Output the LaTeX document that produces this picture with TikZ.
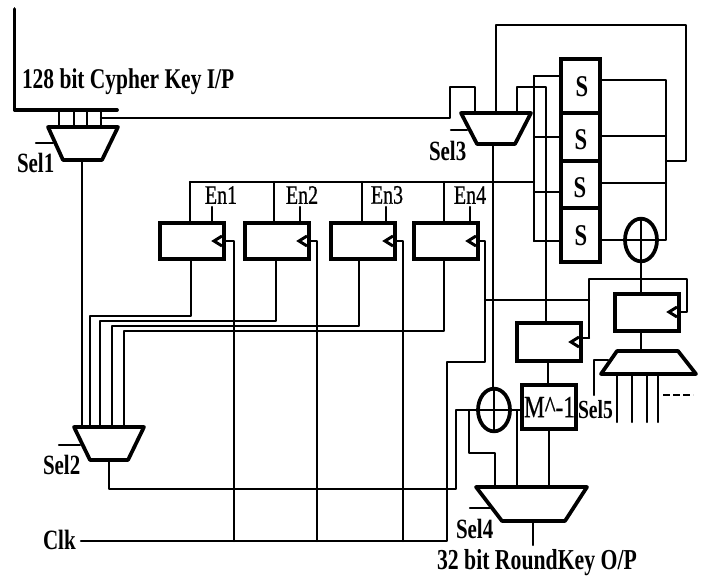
\documentclass[tikz,border=0pt]{standalone}
\usepackage{fontspec}
\setmainfont{Liberation Serif}
\newfontfamily\medfont[FakeBold=0.7]{Liberation Serif}
\newcommand{\tallbf}[2]{\scalebox{1}[1.33]{\fontsize{#1}{#1}\selectfont\bfseries #2}}
\newcommand{\tallrm}[2]{\scalebox{1}[1.33]{\fontsize{#1}{#1}\medfont #2}}
\tikzset{
  x=0.75pt,y=-0.75pt,
  wire/.style={line width=1.7pt,line cap=round,line join=round},
  heavy/.style={line width=2.8pt,line cap=round,line join=round},
  regbox/.style={draw,line width=2.8pt,rectangle,inner sep=0pt,outer sep=0pt},
  muxframe/.style={rectangle,inner sep=0pt,outer sep=0pt},
  xorring/.style={draw,line width=2.8pt,ellipse,inner sep=0pt,outer sep=0pt,minimum width=24pt,minimum height=32pt},
  lbl/.style={inner sep=0pt,outer sep=0pt},
  clocktip/.style={line width=2.2pt,line join=miter}
}
\usetikzlibrary{shapes.geometric}
\newcommand{\regb}[5]{\node[regbox,minimum width=#4*0.75pt,minimum height=#5*0.75pt] (#1) at (#2,#3) {};}
\begin{document}
\begin{tikzpicture}
\useasboundingbox (0,0) rectangle (707,578);
% registers
\regb{ff1}{192}{241}{64}{36}
\regb{ff2}{277}{241}{64}{36}
\regb{ff3}{363}{241}{64}{36}
\regb{ff4}{446}{241}{64}{36}
\regb{ffm}{549}{342}{64}{38}
\regb{ffr}{647}{312.5}{64}{37}
\regb{mbox}{549}{407}{54}{44}
% S boxes
\node[regbox,minimum width=29.25pt,minimum height=40.5pt] (s1) at (580.5,86) {};
\node[regbox,minimum width=29.25pt,minimum height=36pt] (s2) at (580.5,137) {};
\node[regbox,minimum width=29.25pt,minimum height=35.25pt] (s3) at (580.5,184.5) {};
\node[regbox,minimum width=29.25pt,minimum height=40.5pt] (s4) at (580.5,235) {};
\node[lbl] (st1) at (582,87) {\tallbf{17}{S}};
\node[lbl] (st2) at (581,140) {\tallbf{17}{S}};
\node[lbl] (st3) at (580,188) {\tallbf{17}{S}};
\node[lbl] (st4) at (581,236) {\tallbf{17}{S}};
% mux frames
\node[muxframe,minimum width=52.5pt,minimum height=24.75pt] (m1) at (83,143.5) {};
\node[muxframe,minimum width=52.5pt,minimum height=24.75pt] (m2) at (109,443.5) {};
\node[muxframe,minimum width=52.5pt,minimum height=23.25pt] (m3) at (496,128.5) {};
\node[muxframe,minimum width=83.25pt,minimum height=25.5pt] (m4) at (531.5,504) {};
\node[muxframe,minimum width=71.25pt,minimum height=17.25pt] (m5) at (648.5,362.5) {};
\draw[heavy] (m1.north west) -- (m1.north east) -- (102,0 |- m1.south) -- (63,0 |- m1.south) -- cycle;
\draw[heavy] (m2.north west) -- (m2.north east) -- (128,0 |- m2.south) -- (90,0 |- m2.south) -- cycle;
\draw[heavy] (m3.north west) -- (m3.north east) -- (515,0 |- m3.south) -- (477,0 |- m3.south) -- cycle;
\draw[heavy] (m4.north west) -- (m4.north east) -- (565,0 |- m4.south) -- (502,0 |- m4.south) -- cycle;
\draw[heavy] (617,0 |- m5.north) -- (678,0 |- m5.north) -- (m5.south east) -- (m5.south west) -- cycle;
% xor
\node[xorring] (x1) at (494,410) {};
\node[xorring] (x2) at (641,240) {};
% coordinates
\coordinate (bustop) at (14.5,9);
\coordinate (buscorner) at (14.5,110);
\coordinate (busend) at (117,110);
\coordinate (sclk) at (81,541);
\coordinate (sbus) at (190,182);
\coordinate (sbusr) at (534,182);
% key bus
\draw[line width=2.8pt,line cap=round,line join=round] (bustop) -- (buscorner) -- (busend);
\foreach \xx in {59,74,87,101}{\draw[wire] (\xx,0 |- busend) -- (\xx,0 |- m1.north);}
\draw[wire] (101,118) -- (450,118) -- (450,87) -- (475,87) -- (475,0 |- m3.north);
% mux 1
\draw[wire] (82,0 |- m1.south) -- (82,0 |- m2.north);
\draw[wire] (36,143) -- (53,143);
% mux 3 loop
\draw[wire] (496,0 |- m3.north) -- (496,25) -- (686,25) -- (686,161) -- (666,161);
\draw[wire] (517,0 |- m3.north) -- (517,87) -- (546,87) -- (546,0 |- ffm.north);
\draw[wire] (451,130) -- (467,130);
\draw[wire] (493,0 |- m3.south) -- (493,0 |- x1.north);
% S-input bus
\draw[wire] (534,76) -- (534,241);
\draw[wire] (534,76) -- (s1.west |- 534,76);
\draw[wire] (534,137) -- (s2.west |- 534,137);
\draw[wire] (534,192) -- (s3.west |- 534,192);
\draw[wire] (534,241) -- (s4.west |- 534,241);
\draw[wire] (sbus) -- (sbusr);
\draw[wire] (sbus) -- (190,0 |- ff1.north);
\draw[wire] (274,182) -- (274,0 |- ff2.north);
\draw[wire] (362,182) -- (362,0 |- ff3.north);
\draw[wire] (444,182) -- (444,0 |- ff4.north);
% En stubs
\draw[wire] (212,207) -- (212,0 |- ff1.north);
\draw[wire] (300,207) -- (300,0 |- ff2.north);
\draw[wire] (386,207) -- (386,0 |- ff3.north);
\draw[wire] (470,207) -- (470,0 |- ff4.north);
% S outputs
\draw[wire] (s1.east |- 600,80) -- (666,80) -- (666,240) -- (x2.east);
\draw[wire] (s2.east |- 600,136) -- (666,136);
\draw[wire] (s3.east |- 600,183) -- (666,183);
\draw[wire] (s4.east |- 600,240) -- (x2.west);
\draw[wire] (x2.west) -- (x2.east);
\draw[wire] (x2.north) -- (x2.south);
\draw[wire] (x2.south) -- (641,0 |- ffr.north);
% reg to mux 2
\draw[wire] (191,0 |- ff1.south) -- (191,316) -- (90,316) -- (90,0 |- m2.north);
\draw[wire] (276,0 |- ff2.south) -- (276,321) -- (100,321) -- (100,0 |- m2.north);
\draw[wire] (359,0 |- ff3.south) -- (359,326) -- (112,326) -- (112,0 |- m2.north);
\draw[wire] (444,0 |- ff4.south) -- (444,331) -- (124,331) -- (124,0 |- m2.north);
\draw[wire] (59,445) -- (80,445);
% mux 2 output
\draw[wire] (109,0 |- m2.south) -- (109,489) -- (456,489) -- (456,410) -- (mbox.west |- 456,410);
\draw[wire] (x1.north) -- (x1.south);
\draw[wire] (469,410) -- (469,453) -- (495,453) -- (495,0 |- m4.north);
\draw[wire] (517,410) -- (517,0 |- m4.north);
% M box
\draw[wire] (548,0 |- ffm.south) -- (548,0 |- mbox.north);
\draw[wire] (549,0 |- mbox.south) -- (549,0 |- m4.north);
\draw[wire] (533,0 |- m4.south) -- (533,545);
\draw[wire] (470,508) -- (490,508);
% right register
\draw[wire] (641,0 |- ffr.south) -- (641,0 |- m5.north);
\draw[wire] (594,395) -- (594,360) -- (608,360);
\foreach \xx in {617,632,647,658}{\draw[wire] (\xx,0 |- m5.south) -- (\xx,422);}
\draw[line width=2pt,dash pattern=on 5pt off 2.5pt] (663,395) -- (693,395);
% clock
\draw[wire] (sclk) -- (447,541) -- (447,362) -- (485,362) -- (485,241) -- (ff4.east |- 485,241);
\draw[wire] (234,541) -- (234,241) -- (ff1.east |- 234,241);
\draw[wire] (317,541) -- (317,241) -- (ff2.east |- 317,241);
\draw[wire] (403,541) -- (403,241) -- (ff3.east |- 403,241);
\draw[wire] (485,300) -- (589,300);
\draw[wire] (589,338) -- (589,279) -- (687,279) -- (687,312) -- (ffr.east |- 687,312);
\draw[wire] (589,338) -- (ffm.east |- 589,338);
% clock tips
\foreach \bx/\by in {ff1/241,ff2/241,ff3/241,ff4/241,ffm/342,ffr/312}{
  \draw[clocktip] ([xshift=-1.5pt]\bx.east |- 0,\by) ++(0,-3.75pt) -- ++(-6pt,3.75pt) -- ++(6pt,3.75pt);
}
% text
\node[lbl,anchor=west] (tkey) at (22,82) {\tallbf{16.1}{128 bit Cypher Key I/P}};
\node[lbl,anchor=west] (tsel1) at (17,163) {\tallbf{15.7}{Sel1}};
\node[lbl,anchor=west] (tsel2) at (43,465) {\tallbf{15.7}{Sel2}};
\node[lbl,anchor=west] (tsel3) at (429,151) {\tallbf{15.7}{Sel3}};
\node[lbl,anchor=west] (tsel4) at (456,529) {\tallbf{15.7}{Sel4}};
\node[lbl,anchor=west] (tsel5) at (578,410) {\tallbf{14.7}{Sel5}};
\node[lbl,anchor=west] (tclk) at (43,540) {\tallbf{15.75}{Clk}};
\node[lbl] (ten1) at (221,195) {\tallrm{15}{En1}};
\node[lbl] (ten2) at (302,195) {\tallrm{15}{En2}};
\node[lbl] (ten3) at (387,195) {\tallrm{15}{En3}};
\node[lbl] (ten4) at (470,195) {\tallrm{15}{En4}};
\node[lbl] (tm) at (549.5,407) {\tallrm{17.4}{M\^{}-1}};
\node[lbl,anchor=west] (tout) at (437,563) {\tallbf{16.3}{32 bit RoundKey O/P}};
\end{tikzpicture}
\end{document}
